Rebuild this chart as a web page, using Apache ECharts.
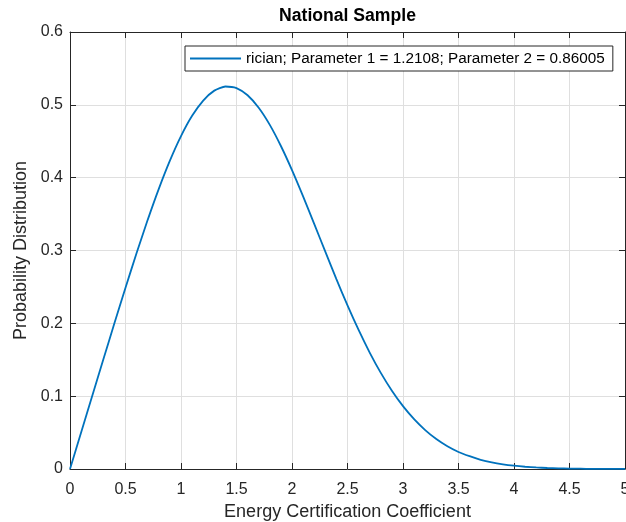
<!DOCTYPE html>
<html>
<head>
<meta charset="utf-8">
<script src="https://cdn.jsdelivr.net/npm/echarts@6/dist/echarts.min.js"></script>
<style>
  html, body { margin: 0; padding: 0; background: #ffffff; }
  #chart { width: 626px; height: 522px; }
</style>
</head>
<body>
<div id="chart"></div>
<script>
// ---- data ----
const titleText = "National Sample";
const seriesName = "rician; Parameter 1 = 1.2108; Parameter 2 = 0.86005";
const xName = "Energy Certification Coefficient";
const yName = "Probability Distribution";

const xValues = [0, 0.1, 0.2, 0.3, 0.4, 0.5, 0.6, 0.7, 0.8, 0.9,
  1.0, 1.1, 1.2, 1.3, 1.4, 1.5, 1.6, 1.7, 1.8, 1.9,
  2.0, 2.1, 2.2, 2.3, 2.4, 2.5, 2.6, 2.7, 2.8, 2.9,
  3.0, 3.1, 3.2, 3.3, 3.4, 3.5, 3.6, 3.7, 3.8, 3.9,
  4.0, 4.1, 4.2, 4.3, 4.4, 4.5, 4.6, 4.7, 4.8, 4.9, 5.0];

const yValues = [0, 0.0502, 0.1003, 0.1503, 0.2000, 0.2489, 0.2965, 0.3421, 0.3847, 0.4234,
  0.4571, 0.4849, 0.5059, 0.5195, 0.5252, 0.5230, 0.5131, 0.4960, 0.4725, 0.4435,
  0.4104, 0.3743, 0.3366, 0.2984, 0.2607, 0.2246, 0.1909, 0.1599, 0.1320, 0.1075,
  0.0863, 0.0684, 0.0534, 0.0411, 0.0312, 0.0234, 0.0176, 0.0126, 0.0090, 0.0064,
  0.0045, 0.0031, 0.0021, 0.0014, 0.0009, 0.0006, 0.0004, 0.0002, 0.0002, 0.0001, 0.0001];

const xTicks = { min: 0, max: 5, interval: 0.5 };
const yTicks = { min: 0, max: 0.6, interval: 0.1 };

// ---- chart ----
const FONT = 'Arial, "Liberation Sans", Helvetica, sans-serif';
const AX = '#262626';
const GRID = '#dfdfdf';
const LINE = '#0072BD';

const chart = echarts.init(document.getElementById('chart'), null, { renderer: 'canvas' });

const seriesData = xValues.map((x, i) => [x, yValues[i]]);

chart.setOption({
  backgroundColor: '#ffffff',
  animation: false,
  title: {
    text: titleText,
    left: 347.5,
    textAlign: 'center',
    top: 7,
    padding: 0,
    textStyle: { fontFamily: FONT, fontSize: 17.6, fontWeight: 'bold', color: '#000000' }
  },
  grid: { left: 70, right: 1, top: 32, bottom: 53, containLabel: false, outerBoundsMode: 'none' },
  legend: {
    left: 185,
    top: 46,
    padding: [5, 8, 5, 5],
    itemWidth: 51,
    itemHeight: 2,
    icon: 'rect',
    backgroundColor: '#ffffff',
    borderColor: AX,
    borderWidth: 1,
    borderRadius: 0,
    textStyle: { fontFamily: FONT, fontSize: 15.3, color: '#000000' },
    data: [{ name: seriesName }]
  },
  xAxis: [
    {
      type: 'value',
      min: xTicks.min, max: xTicks.max, interval: xTicks.interval,
      name: xName,
      nameLocation: 'middle',
      nameGap: 34,
      nameTextStyle: { fontFamily: FONT, fontSize: 18, color: AX },
      axisLine: { show: true, onZero: false, lineStyle: { color: AX, width: 1 } },
      axisTick: { show: true, inside: true, length: 6, lineStyle: { color: AX } },
      axisLabel: { fontFamily: FONT, fontSize: 16, color: AX, margin: 13 },
      splitLine: { show: true, lineStyle: { color: GRID, width: 1 } }
    },
    {
      type: 'value',
      position: 'top',
      min: xTicks.min, max: xTicks.max, interval: xTicks.interval,
      axisLine: { show: true, onZero: false, lineStyle: { color: AX, width: 1 } },
      axisTick: { show: true, inside: true, length: 6, lineStyle: { color: AX } },
      axisLabel: { show: false },
      splitLine: { show: false }
    }
  ],
  yAxis: [
    {
      type: 'value',
      min: yTicks.min, max: yTicks.max, interval: yTicks.interval,
      name: yName,
      nameLocation: 'middle',
      nameGap: 38,
      nameTextStyle: { fontFamily: FONT, fontSize: 18, color: AX },
      axisLine: { show: true, onZero: false, lineStyle: { color: AX, width: 1 } },
      axisTick: { show: true, inside: true, length: 6, lineStyle: { color: AX } },
      axisLabel: { fontFamily: FONT, fontSize: 16, color: AX, margin: 7 },
      splitLine: { show: true, lineStyle: { color: GRID, width: 1 } }
    },
    {
      type: 'value',
      position: 'right',
      min: yTicks.min, max: yTicks.max, interval: yTicks.interval,
      axisLine: { show: true, onZero: false, lineStyle: { color: AX, width: 1 } },
      axisTick: { show: true, inside: true, length: 6, lineStyle: { color: AX } },
      axisLabel: { show: false },
      splitLine: { show: false }
    }
  ],
  series: [
    {
      name: seriesName,
      type: 'line',
      xAxisIndex: 0,
      yAxisIndex: 0,
      data: seriesData,
      symbol: 'none',
      showSymbol: false,
      smooth: 0.2,
      clip: true,
      lineStyle: { color: LINE, width: 1.8 },
      itemStyle: { color: LINE },
      z: 3
    }
  ]
});
</script>
</body>
</html>
